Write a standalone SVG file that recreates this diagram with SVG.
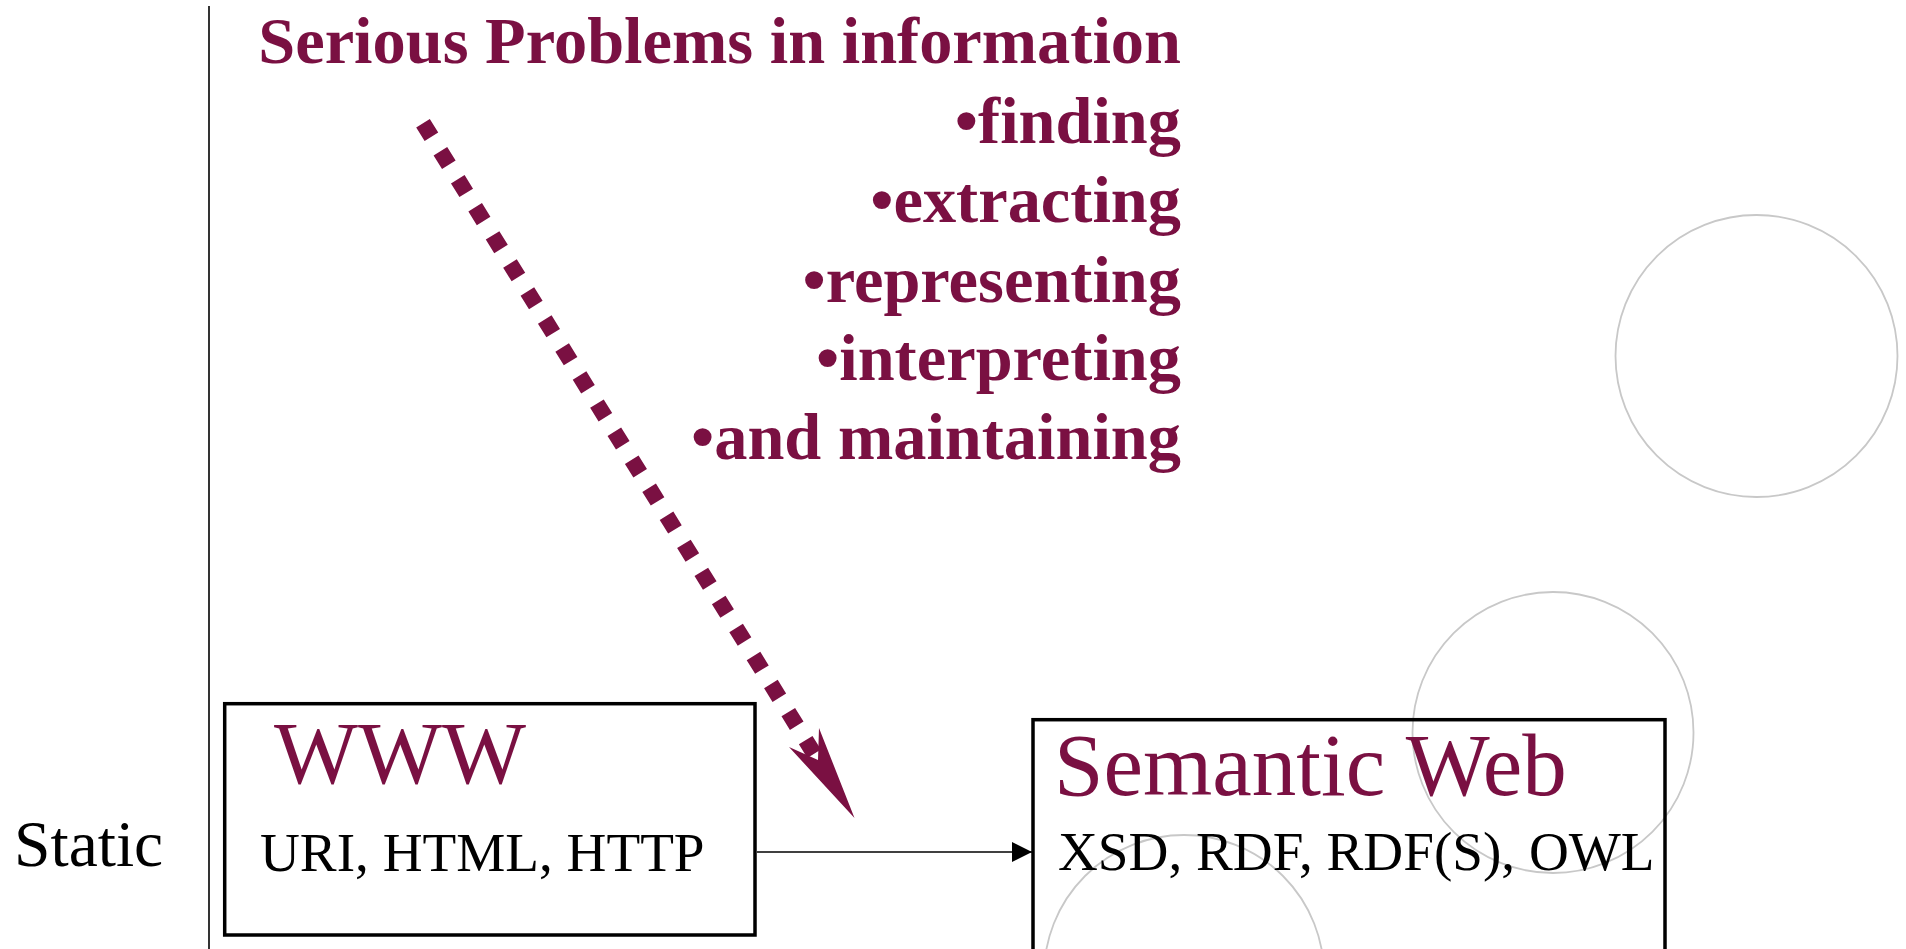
<svg xmlns="http://www.w3.org/2000/svg" width="1906" height="949" viewBox="0 0 1906 949">
  <defs>
    <style>
      .serif { font-family: "Liberation Serif", "Times New Roman", serif; }
      .maroon { fill: #7A1042; }
      .title { font-size: 66.4px; font-weight: bold; text-anchor: end; }
      .big { font-size: 89px; }
      .small { font-size: 55.2px; fill: #000; }
      .box { fill: none; stroke: #000; stroke-width: 3.5; }
      .ring { fill: none; stroke: #c8c8c8; stroke-width: 1.8; }
    </style>
    <marker id="arrowBlack" markerWidth="20" markerHeight="20" refX="20" refY="10" orient="auto" markerUnits="userSpaceOnUse">
      <path d="M0,0 L20,10 L0,20 Z" fill="#000"/>
    </marker>
  </defs>
  <rect x="0" y="0" width="1906" height="949" fill="#fff"/>

  <!-- decorative circles -->
  <g id="circles">
    <circle class="ring" cx="1756.5" cy="356" r="141"/>
    <circle class="ring" cx="1553" cy="732.5" r="140.5"/>
    <circle class="ring" cx="1184" cy="975" r="140"/>
  </g>

  <!-- divider line -->
  <line x1="209" y1="6" x2="209" y2="949" stroke="#000" stroke-width="1.6"/>

  <g id="label-static">
    <text class="serif" x="14" y="866" font-size="65.5" fill="#000">Static</text>
  </g>

  <g id="problems">
    <text class="serif maroon title" x="1181" y="63">Serious Problems in information</text>
    <text class="serif maroon title" x="1181" y="143">•finding</text>
    <text class="serif maroon title" x="1181" y="222">•extracting</text>
    <text class="serif maroon title" x="1181" y="302">•representing</text>
    <text class="serif maroon title" x="1181" y="380">•interpreting</text>
    <text class="serif maroon title" x="1181" y="459">•and maintaining</text>
  </g>

  <g id="node-www">
    <rect class="box" x="224.7" y="703.7" width="530.3" height="231.3"/>
    <text class="serif maroon big" x="274" y="783">WWW</text>
    <text class="serif small" x="260" y="871">URI, HTML, HTTP</text>
  </g>

  <g id="node-semweb">
    <rect class="box" x="1033" y="719.7" width="632" height="300"/>
    <text class="serif maroon big" x="1054" y="795">Semantic Web</text>
    <text class="serif small" x="1058" y="870">XSD, RDF, RDF(S), OWL</text>
  </g>

  <g id="connectors">
    <line x1="757" y1="852" x2="1032" y2="852" stroke="#000" stroke-width="1.5" marker-end="url(#arrowBlack)"/>
    <line x1="423" y1="123.2" x2="818" y2="760" stroke="#7A1042" stroke-width="16" stroke-dasharray="16 17"/>
    <polygon points="854.5,818 789,747 818,760 819,728" fill="#7A1042"/>
  </g>
</svg>
